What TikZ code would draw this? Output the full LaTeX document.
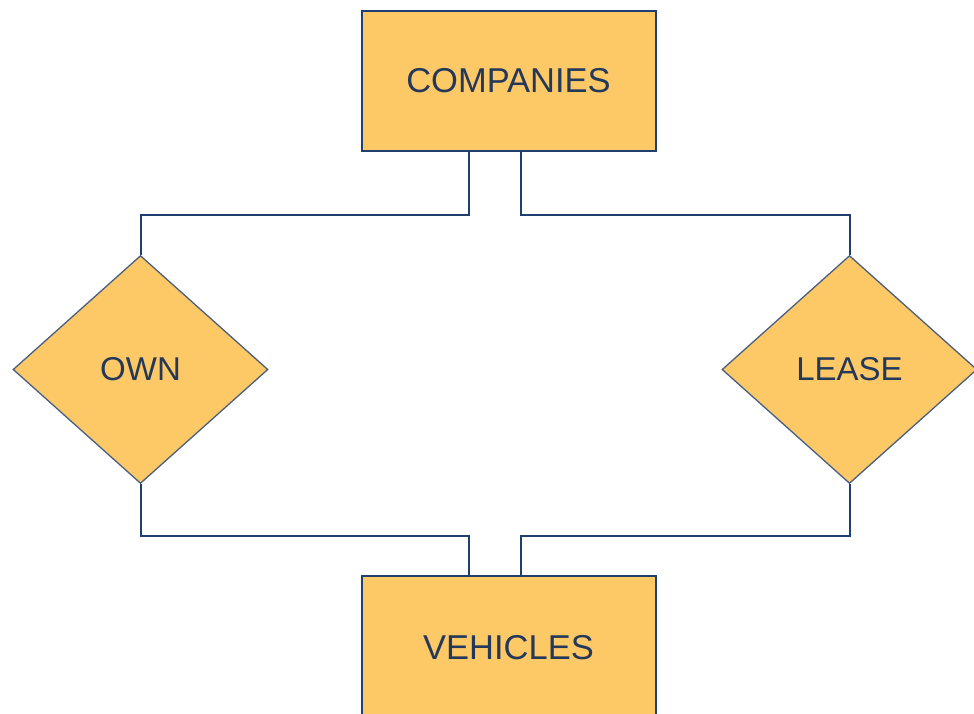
\documentclass[tikz,border=0pt]{standalone}
\usepackage{fontspec}
\setmainfont{Liberation Sans}
\usetikzlibrary{shapes.geometric}
\definecolor{boxfill}{HTML}{FDC966}
\definecolor{boxline}{HTML}{1F3F6E}
\definecolor{dmline}{HTML}{4A5F80}
\definecolor{txt}{HTML}{24385A}
\tikzset{
  entity/.style={rectangle, draw=boxline, line width=2pt, fill=boxfill, minimum width=294pt, minimum height=140pt, inner sep=0pt, text=txt, font=\fontsize{34.5}{38}\selectfont},
  relation/.style={diamond, draw=dmline, line width=1.3pt, fill=boxfill, minimum width=255pt, minimum height=228pt, inner sep=0pt, text=txt, font=\fontsize{33}{36}\selectfont},
  link/.style={draw=boxline, line width=2pt}
}
\begin{document}
\begin{tikzpicture}[x=1pt,y=-1pt]
\useasboundingbox (0,0) rectangle (974,713);
\node[entity] (comp) at (508.5,80.5) {COMPANIES};
\node[entity, minimum height=144pt] (veh) at (508.5,648) {VEHICLES};
\node[relation] (own) at (140.5,369.5) {OWN};
\node[relation] (lease) at (849.5,369.5) {LEASE};
\draw[link] ([xshift=-39.5pt]comp.south) -- ++(0,63) -| (own.north);
\draw[link] ([xshift=12.5pt]comp.south) -- ++(0,63) -| (lease.north);
\draw[link] (own.south) -- ++(0,52) -| ([xshift=-39.5pt]veh.north);
\draw[link] (lease.south) -- ++(0,52) -| ([xshift=12.5pt]veh.north);
\end{tikzpicture}
\end{document}
